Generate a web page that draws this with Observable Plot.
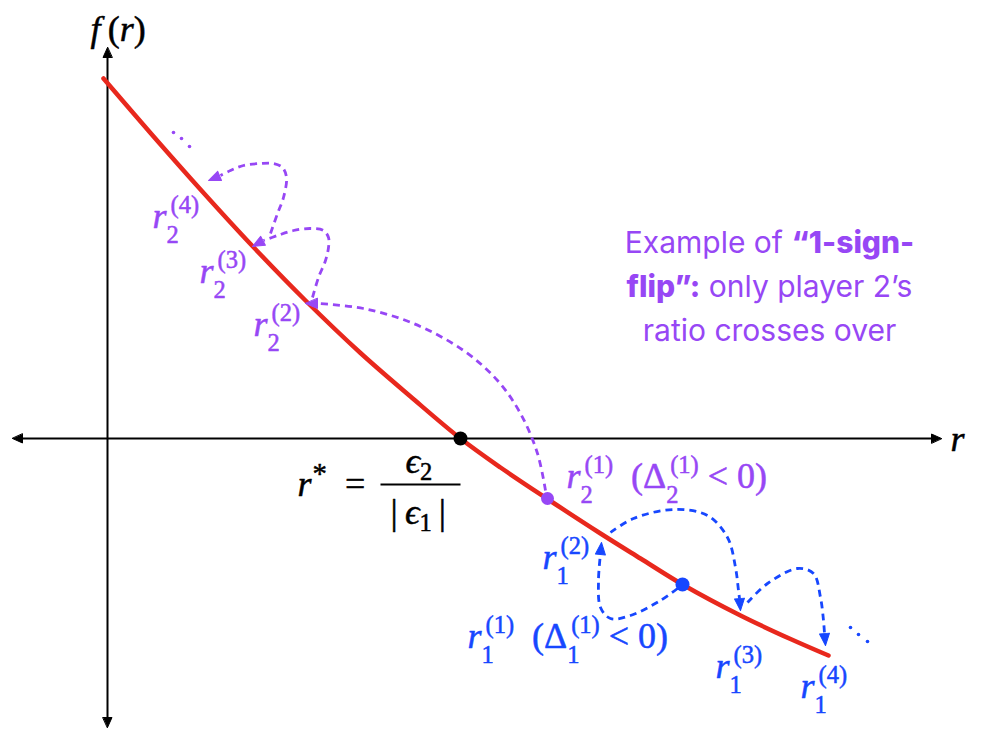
<!DOCTYPE html>
<html><head><meta charset="utf-8">
<script src="https://cdn.jsdelivr.net/npm/d3@7"></script>
<script src="https://cdn.jsdelivr.net/npm/@observablehq/plot@0.6"></script>
<style>
html,body{margin:0;padding:0;background:#fff;}
#chart{width:996px;height:747px;}
</style>
</head><body><div id="chart"></div>
<script>
// ---- data (r along horizontal axis, f(r) along vertical axis) ----
const curveR = [-4, 43, 93, 143, 198, 253, 303, 353, 393, 440, 493, 533, 575, 633, 683, 721];
const curveF = [360, 305.5, 249, 194.5, 138, 85.5, 42, 0, -29, -60.5, -95, -120, -146, -177, -200.5, -217];

const rStar = [353, 0];           // fixed point r*
const player2Start = [440, -60];  // r2^(1)
const player1Start = [575, -146]; // r1^(1)

// dashed hops (last point = arrow tip)
const hopP2a = [[438,-52],[430,-15],[413,25],[390,58],[356,88],[306,115],[256,130],[211,135],[198,135]];
const hopP2b = [[205,141],[211,161],[218,178],[221,191],[221,201],[216,208],[203,210],[186,208],[170,203],[156,198],[145,192]];
const hopP2c = [[163,205],[170,225],[176,241],[179,261],[175,271],[166,275],[153,275],[136,273],[123,268],[113,263],[101,258]];
const hopP1a = [[570,-150],[553,-162],[523,-177],[503,-180],[493,-169],[491,-142],[493,-115],[494,-104]];
const hopP1b = [[503,-94],[526,-80],[566,-71],[600,-77],[620,-99],[628,-129],[631,-152],[632,-160],[633,-172]];
const hopP1c = [[640,-164],[660,-145],[690,-130],[706,-135],[713,-159],[716,-182],[717,-195],[718,-207]];

const ellipsisP2 = [[66,306],[74,300],[82,292]];
const ellipsisP1 = [[743,-189],[751,-196],[760,-203]];

const axisR = [-95, 834];
const axisF = [-289, 391];

const labelsBlack = [
  {r: -17, f: 398, tex: "f\u2009(r)"},
  {r: 843, f: -12, tex: "r"},
  {r: 190, f: -57, tex: "r^{*}\u2002="},
  {r: 298, f: -34, tex: "ϵ_{2}"},
  {r: 283, f: -85, tex: "|\u2009ϵ_{1}\u2009|"}
];
const fractionBar = [273, 353, -46];

const labelsPurple = [
  {r: 459, f: -49, tex: "r_{2}^{(1)}\u2002(Δ_{2}^{(1)} < 0)"},
  {r: 146, f: 103, tex: "r_{2}^{(2)}"},
  {r: 92, f: 156, tex: "r_{2}^{(3)}"},
  {r: 45, f: 211, tex: "r_{2}^{(4)}"}
];
const labelsBlue = [
  {r: 435, f: -130, tex: "r_{1}^{(2)}"},
  {r: 360, f: -209, tex: "r_{1}^{(1)}\u2002(Δ_{1}^{(1)} < 0)"},
  {r: 608, f: -239, tex: "r_{1}^{(3)}"},
  {r: 693, f: -259, tex: "r_{1}^{(4)}"}
];

const noteLines = ["Example of **“1-sign-**", "**flip”:** only player 2’s", "ratio crosses over"];
const noteR = 662;
const noteF = [186, 142, 98];

// ---- fonts ----
const ctx = document.createElement("canvas").getContext("2d");
function available(name) {
  const probe = "mmmmwwwwiiiillll0123rrrfff(Δ)";
  for (const base of ["monospace", "sans-serif", "serif"]) {
    ctx.font = `72px ${base}`;
    const w0 = ctx.measureText(probe).width;
    ctx.font = `72px "${name}", ${base}`;
    if (Math.abs(ctx.measureText(probe).width - w0) > 0.5) return true;
  }
  return false;
}
const serifName = ["Liberation Serif", "DejaVu Serif", "Tinos", "Times New Roman", "Noto Serif", "FreeSerif"].find(available) || "Liberation Serif";
const SERIF = `"${serifName}", "DejaVu Serif", serif`;
const noteName = ["Inter", "Lato", "Noto Sans"].find(available) || "Noto Sans";
const NOTE_FONT = `"${noteName}", sans-serif`;

// ---- styles ----
const RED = "#e8281d", PURPLE = "#9747f5", BLUE = "#1747ff", INK = "#000";
const FS = 36, SS = Math.round(FS * 0.68 * 10) / 10, NOTE_FS = 30, NOTE_BOLD = 800;

// ---- text layout: each piece becomes its own text element ----
function measure(s, size, italic, family = SERIF, weight = 400) {
  ctx.font = `${italic ? "italic " : ""}${weight} ${size}px ${family}`;
  return ctx.measureText(s).width;
}
function layoutMath(lbl) {
  const src = lbl.tex, out = [];
  let pen = 0, i = 0;
  const emit = (text, off, size, italic) => {
    out.push({r: lbl.r + pen, f: lbl.f - off, text, size, italic});
    const w = measure(text, size, italic);
    pen += w;
    return w;
  };
  const group = () => {
    if (src[i] === "{") { const j = src.indexOf("}", i); const g = src.slice(i + 1, j); i = j + 1; return g; }
    return src[i++];
  };
  const isItalic = c => /[A-Za-zϵ]/.test(c);
  let run = "", runItalic = null;
  const flush = () => { if (run) emit(run, 0, FS, runItalic); run = ""; runItalic = null; };
  while (i < src.length) {
    const c = src[i];
    if (/\s/.test(c)) { flush(); pen += measure(c, FS, false); i++; continue; }
    if (c === "_" || c === "^") {
      flush();
      let sub = null, sup = null;
      while (i < src.length && (src[i] === "_" || src[i] === "^")) {
        const k = src[i++]; const g = group();
        if (k === "_") sub = g; else sup = g;
      }
      const start = pen;
      if (sub !== null && sup !== null) {
        const w = emit(sub, 0.43 * FS, SS, false);
        pen = start + 4;
        const w2 = emit(sup, -0.4 * FS, SS, false);
        pen = Math.max(start + w, start + 4 + w2);
      } else if (sub !== null) {
        emit(sub, 0.2 * FS, SS, false);
      } else {
        pen += 1;
        emit(sup, -0.36 * FS, FS * 0.8, false);
      }
      continue;
    }
    const it = isItalic(c);
    if (run && it !== runItalic) flush();
    runItalic = it; run += c; i++;
  }
  flush();
  return out;
}
function layoutNote() {
  const out = [];
  noteLines.forEach((line, li) => {
    const parts = line.split("**").map((p, k) => ({p, bold: k % 2 === 1})).filter(d => d.p);
    const wOf = d => measure(d.p, NOTE_FS, false, NOTE_FONT, d.bold ? NOTE_BOLD : 400);
    const total = d3.sum(parts, wOf);
    let pen = -total / 2;
    for (const d of parts) {
      const lead = d.p.match(/^\s*/)[0];
      const w = wOf(d);
      const leadW = lead ? measure(lead, NOTE_FS, false, NOTE_FONT, d.bold ? NOTE_BOLD : 400) : 0;
      out.push({r: noteR + pen + leadW, f: noteF[li], text: d.p.trim(), bold: d.bold});
      pen += w;
    }
  });
  return out;
}

// ---- build tables ----
const curve = curveR.map((r, i) => ({r, f: curveF[i]}));
function hopTable(hops) {
  const path = [], heads = [];
  hops.forEach((h, k) => {
    h.slice(0, -1).forEach(([r, f]) => path.push({r, f, id: k}));
    const [r0, f0] = h[h.length - 2], [r1, f1] = h[h.length - 1];
    heads.push({r: r1, f: f1, angle: Math.atan2(r1 - r0, f1 - f0) * 180 / Math.PI});
  });
  return {path, heads};
}
const purpleHops = hopTable([hopP2a, hopP2b, hopP2c]);
const blueHops = hopTable([hopP1a, hopP1b, hopP1c]);
const pts = a => a.map(([r, f]) => ({r, f}));

const axisHeads = [
  {r: axisR[1], f: 0, angle: 90}, {r: axisR[0], f: 0, angle: -90},
  {r: 0, f: axisF[1], angle: 0}, {r: 0, f: axisF[0], angle: 180}
];
const inset = 8;
const axisLines = [
  {r1: axisR[0] + inset, f1: 0, r2: axisR[1] - inset, f2: 0},
  {r1: 0, f1: axisF[0] + inset, r2: 0, f2: axisF[1] - inset}
];

const triangle = {draw(c, l, r) { c.moveTo(0, -l); c.lineTo(-r, 0); c.lineTo(r, 0); c.closePath(); }};
const head = (data, color, len, rad) => Plot.vector(data, {x: "r", y: "f", rotate: "angle", length: len, r: rad, anchor: "end", shape: triangle, fill: color, stroke: color, strokeWidth: 1});

const textMarks = [];
for (const [labels, color] of [[labelsBlack, INK], [labelsPurple, PURPLE], [labelsBlue, BLUE]]) {
  const pieces = labels.flatMap(layoutMath);
  const sizes = Array.from(new Set(pieces.map(p => p.size)));
  for (const italic of [false, true]) for (const size of sizes) {
    const sel = pieces.filter(p => p.italic === italic && p.size === size);
    if (sel.length) textMarks.push(Plot.text(sel, {x: "r", y: "f", text: "text", textAnchor: "start", lineAnchor: "bottom", fill: color, stroke: color, strokeWidth: 0.5, fontSize: size, fontStyle: italic ? "italic" : "normal", fontFamily: SERIF}));
  }
}
const notePieces = layoutNote();
for (const bold of [false, true]) {
  textMarks.push(Plot.text(notePieces.filter(p => p.bold === bold), {x: "r", y: "f", text: "text", textAnchor: "start", lineAnchor: "bottom", fill: PURPLE, fontSize: NOTE_FS, fontWeight: bold ? NOTE_BOLD : 400, fontFamily: NOTE_FONT}));
}

const svg = Plot.plot({
  width: 996, height: 747,
  marginTop: 0, marginRight: 0, marginBottom: 0, marginLeft: 0,
  x: {domain: [-107, 889], axis: null},
  y: {domain: [-309, 438], axis: null},
  style: {background: "#fff", overflow: "visible"},
  marks: [
    Plot.link(axisLines, {x1: "r1", y1: "f1", x2: "r2", y2: "f2", stroke: INK, strokeWidth: 2}),
    head(axisHeads, INK, 10, 4.5),
    Plot.line(curve, {x: "r", y: "f", curve: "catmull-rom", stroke: RED, strokeWidth: 4.5, strokeLinecap: "round"}),
    Plot.line(purpleHops.path, {x: "r", y: "f", z: "id", curve: "catmull-rom", stroke: PURPLE, strokeWidth: 2.8, strokeDasharray: "7,5", strokeLinecap: "butt"}),
    head(purpleHops.heads, PURPLE, 12, 5),
    Plot.line(blueHops.path, {x: "r", y: "f", z: "id", curve: "catmull-rom", stroke: BLUE, strokeWidth: 2.8, strokeDasharray: "7,5", strokeLinecap: "butt"}),
    head(blueHops.heads, BLUE, 12, 5),
    Plot.dot(pts(ellipsisP2), {x: "r", y: "f", r: 1.8, fill: PURPLE}),
    Plot.dot(pts(ellipsisP1), {x: "r", y: "f", r: 1.8, fill: BLUE}),
    Plot.dot([rStar], {x: d => d[0], y: d => d[1], r: 7, fill: INK}),
    Plot.dot([player2Start], {x: d => d[0], y: d => d[1], r: 6.5, fill: PURPLE}),
    Plot.dot([player1Start], {x: d => d[0], y: d => d[1], r: 7, fill: BLUE}),
    Plot.link([fractionBar], {x1: d => d[0], x2: d => d[1], y1: d => d[2], y2: d => d[2], stroke: INK, strokeWidth: 2}),
    ...textMarks
  ]
});
document.getElementById("chart").append(svg);
</script>
</body></html>
